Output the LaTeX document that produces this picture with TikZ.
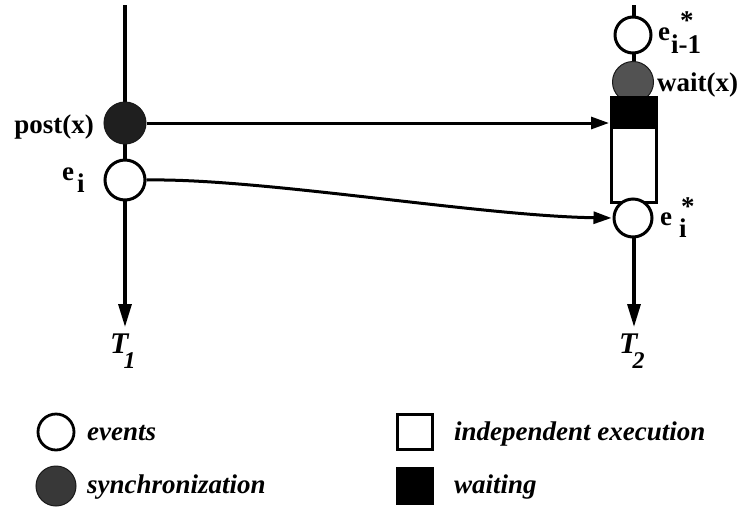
\documentclass[tikz,border=0pt]{standalone}
\usepackage{fontspec}
\setmainfont{Liberation Serif}
\usetikzlibrary{arrows.meta}

\newcommand{\lblfont}{\fontsize{27}{30}\selectfont\bfseries}
\newcommand{\keyfont}{\fontsize{27}{30}\selectfont\bfseries\itshape}
\newcommand{\thrfont}{\fontsize{30}{32}\selectfont\bfseries\itshape}

\tikzset{
  thread/.style={line width=3.2pt, -{Triangle[length=23pt,width=13pt]}},
  msg/.style={line width=3pt, -{Triangle[length=18pt,width=12pt]}, shorten >=1pt},
  event/.style={circle, draw, line width=3pt, fill=white, minimum size=#1, inner sep=0pt},
  event/.default=40pt,
  sync/.style={circle, draw=black!90, line width=1pt, fill=#1, minimum size=42pt, inner sep=0pt},
  sync/.default=black!85,
  execbox/.style={rectangle, draw, line width=3pt, fill=white, minimum width=45pt, inner sep=0pt},
  waitbox/.style={rectangle, draw, line width=3pt, fill=black, minimum width=45pt, inner sep=0pt},
  lbl/.style={inner sep=0pt, font=\lblfont},
  key/.style={inner sep=0pt, font=\keyfont},
  thr/.style={inner sep=0pt, font=\thrfont},
}

\begin{document}
\begin{tikzpicture}[x=1pt, y=-1pt]
\path[use as bounding box, fill=white] (0,0) rectangle (744,507);

% thread T1
\coordinate (L0) at (125,5);
\coordinate (L1) at (125,327);
\draw[thread] (L0) -- (L1);
\node[sync=black!88] (post) at (125,123) {};
\node[event=40pt] (ei) at (125,180) {};
\node[lbl, anchor=base east] (postlbl) at (94,133) {post(x)};
\node[lbl, anchor=base west] (eilbl) at (62,180) {e\hspace{3pt}\raisebox{-12pt}{i}};
\node[thr, anchor=base west] (T1) at (110,353)
  {T\hspace{-5pt}\raisebox{-15pt}{\fontsize{24}{24}\selectfont 1}};

% thread T2
\coordinate (R0) at (634,5);
\coordinate (R1) at (634,327);
\draw[thread] (R0) -- (R1);
\node[event=36pt] (eprev) at (633,35) {};
\node[sync=black!68, minimum size=41pt] (wait) at (633,82) {};
\node[waitbox, minimum height=27pt, anchor=north] (wbox) at (634,96) {};
\node[execbox, minimum height=75pt, anchor=north] (ibox) at (wbox.south) {};
\node[event=38pt] (ecur) at (633,218) {};
\node[lbl, anchor=base west] (eprevlbl) at (658,40)
  {e\hspace{1pt}\rlap{\raisebox{-13pt}{i-1}}\hspace{9pt}\raisebox{11pt}{*}};
\node[lbl, anchor=base west] (waitlbl) at (657,91) {wait(x)};
\node[lbl, anchor=base west] (ecurlbl) at (660,225)
  {e\hspace{1pt}\rlap{\raisebox{-12pt}{\hspace{6pt}i}}\hspace{8pt}\raisebox{10pt}{*}};
\node[thr, anchor=base west] (T2) at (619,353)
  {T\hspace{-5pt}\raisebox{-15pt}{\fontsize{24}{24}\selectfont 2}};

% messages between the threads
\draw[msg] (post.east) -- (post.east -| wbox.west);
\draw[msg] (ei.east) .. controls (260,178) and (480,216) .. (ecur.west);

% key
\node[event=36pt, line width=2.8pt] (kev) at (56,432) {};
\node[key, anchor=base west] (kevlbl) at (87,440) {events};
\node[sync=black!78, minimum size=40pt] (ksync) at (56,486) {};
\node[key, anchor=base west] (ksynclbl) at (87,493) {synchronization};
\node[execbox, minimum width=35pt, minimum height=35pt, line width=2.8pt] (kexec) at (415,432) {};
\node[key, anchor=base west] (kexeclbl) at (454,440) {independent execution};
\node[rectangle, fill=black, minimum width=38pt, minimum height=38pt, inner sep=0pt] (kwait) at (415,486) {};
\node[key, anchor=base west] (kwaitlbl) at (454,493) {waiting};
\end{tikzpicture}
\end{document}
